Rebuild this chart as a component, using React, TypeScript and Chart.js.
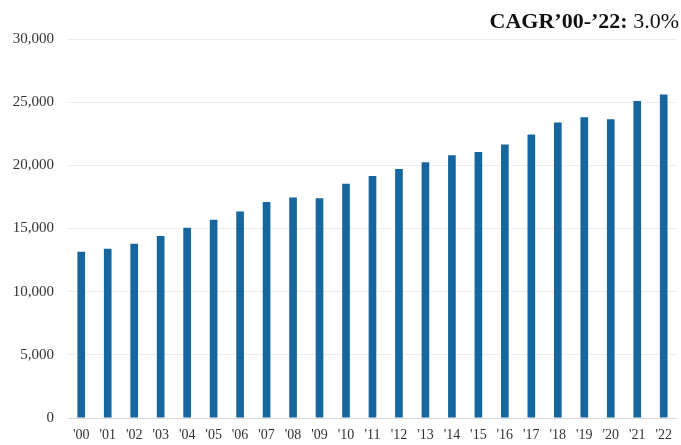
import React, { useEffect, useRef } from "react";
import { Chart, registerables } from "chart.js";

Chart.register(...registerables);

const years = ["'00", "'01", "'02", "'03", "'04", "'05", "'06", "'07", "'08", "'09", "'10", "'11", "'12", "'13", "'14", "'15", "'16", "'17", "'18", "'19", "'20", "'21", "'22"];
const values = [13150, 13400, 13800, 14400, 15050, 15700, 16350, 17100, 17450, 17400, 18550, 19150, 19700, 20250, 20800, 21050, 21650, 22450, 23400, 23800, 23650, 25100, 25600];
const yMax = 30000;
const yStep = 5000;
const cagrLabel = "CAGR\u201900-\u201922:";
const cagrValue = "3.0%";

const SERIF = "'Liberation Serif', 'Times New Roman', serif";

export default function App() {
  const canvasRef = useRef<HTMLCanvasElement | null>(null);

  useEffect(() => {
    if (!canvasRef.current) return;
    const chart = new Chart(canvasRef.current, {
      type: "bar",
      data: {
        labels: years,
        datasets: [
          {
            data: values,
            backgroundColor: "#16669f",
            borderWidth: 0,
            barPercentage: 0.29,
            categoryPercentage: 1,
          },
        ],
      },
      options: {
        animation: false,
        responsive: true,
        maintainAspectRatio: false,
        layout: { padding: { top: 39, right: 1, bottom: 0, left: 0 } },
        plugins: {
          legend: { display: false },
          tooltip: { enabled: false },
        },
        scales: {
          x: {
            offset: true,
            grid: { display: false, drawTicks: false },
            border: { display: true, color: "#d9d9d9", width: 1 },
            afterFit: (scale: any) => {
              scale.height = 27;
            },
            ticks: {
              color: "#333",
              padding: 9,
              maxRotation: 0,
              autoSkip: false,
              font: { family: SERIF, size: 14 },
            },
          },
          y: {
            min: 0,
            max: yMax,
            border: { display: false },
            grid: { color: "#ececec", drawTicks: false },
            afterFit: (scale: any) => {
              scale.width = 68;
            },
            ticks: {
              stepSize: yStep,
              color: "#333",
              padding: 14,
              font: { family: SERIF, size: 15 },
              callback: (v: any) => Number(v).toLocaleString("en-US"),
            },
          },
        },
      },
    });
    return () => chart.destroy();
  }, []);

  return (
    <div style={{ position: "absolute", left: 0, top: 0, width: 681, height: 445, background: "#fff" }}>
      <canvas ref={canvasRef} />
      <div
        style={{
          position: "absolute",
          right: 2,
          top: 6,
          fontFamily: SERIF,
          fontSize: 22,
          color: "#111",
          whiteSpace: "nowrap",
          lineHeight: "30px",
        }}
      >
        <span style={{ fontWeight: "bold" }}>{cagrLabel}</span> <span>{cagrValue}</span>
      </div>
    </div>
  );
}
